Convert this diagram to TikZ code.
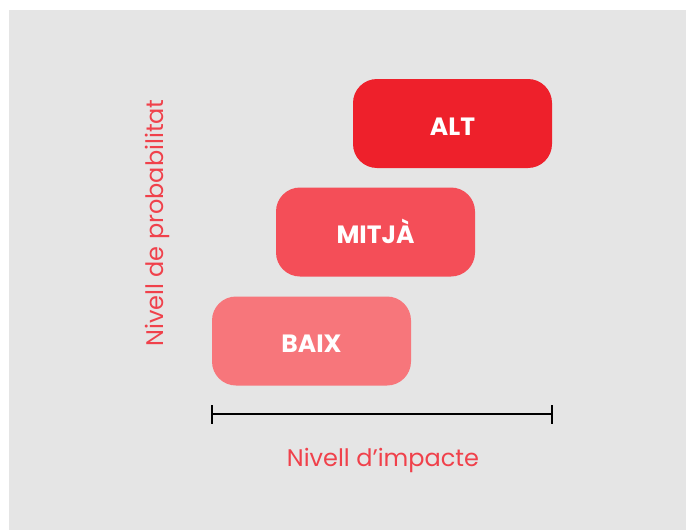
\documentclass[tikz,border=0pt]{standalone}
\usepackage{fontspec}
\setmainfont{Poppins}
\newfontfamily\popbold{Poppins}[UprightFont={* Bold}]
\definecolor{bgc}{HTML}{E5E5E5}
\definecolor{altc}{HTML}{EE202B}
\definecolor{mitc}{HTML}{F44E58}
\definecolor{baixc}{HTML}{F7767B}
\definecolor{labc}{HTML}{F0414B}
\tikzset{
  lvl/.style={rounded corners=24pt, minimum width=199pt, minimum height=89pt, inner sep=0pt, text height=23.5pt, text depth=0pt, text=white, font=\popbold\fontsize{25}{28}\selectfont},
  axlab/.style={text=labc, font=\fontsize{24}{28}\selectfont, inner sep=0pt}
}
\begin{document}
\begin{tikzpicture}[x=1pt,y=-1pt]
\useasboundingbox (0,0) rectangle (686,530);
\fill[bgc] (9,10) rectangle (686,530);
\node[lvl, fill=altc] (alt) at (452.5,123.5) {ALT};
\node[lvl, fill=mitc] (mit) at (375.5,232) {MITJÀ};
\node[lvl, fill=baixc] (baix) at (311.5,341) {BAIX};
\coordinate (a0) at (212,414);
\coordinate (a1) at (552,414);
\draw[line width=2.2pt] (a0) -- (a1);
\draw[line width=2.2pt] ([yshift=-9.5pt]a0) -- ([yshift=9.5pt]a0);
\draw[line width=2.2pt] ([yshift=-9.5pt]a1) -- ([yshift=9.5pt]a1);
\node[axlab] (imp) at (383,460) {Nivell d’impacte};
\node[axlab, rotate=90] (prob) at (157,223) {Nivell de probabilitat};
\end{tikzpicture}
\end{document}
